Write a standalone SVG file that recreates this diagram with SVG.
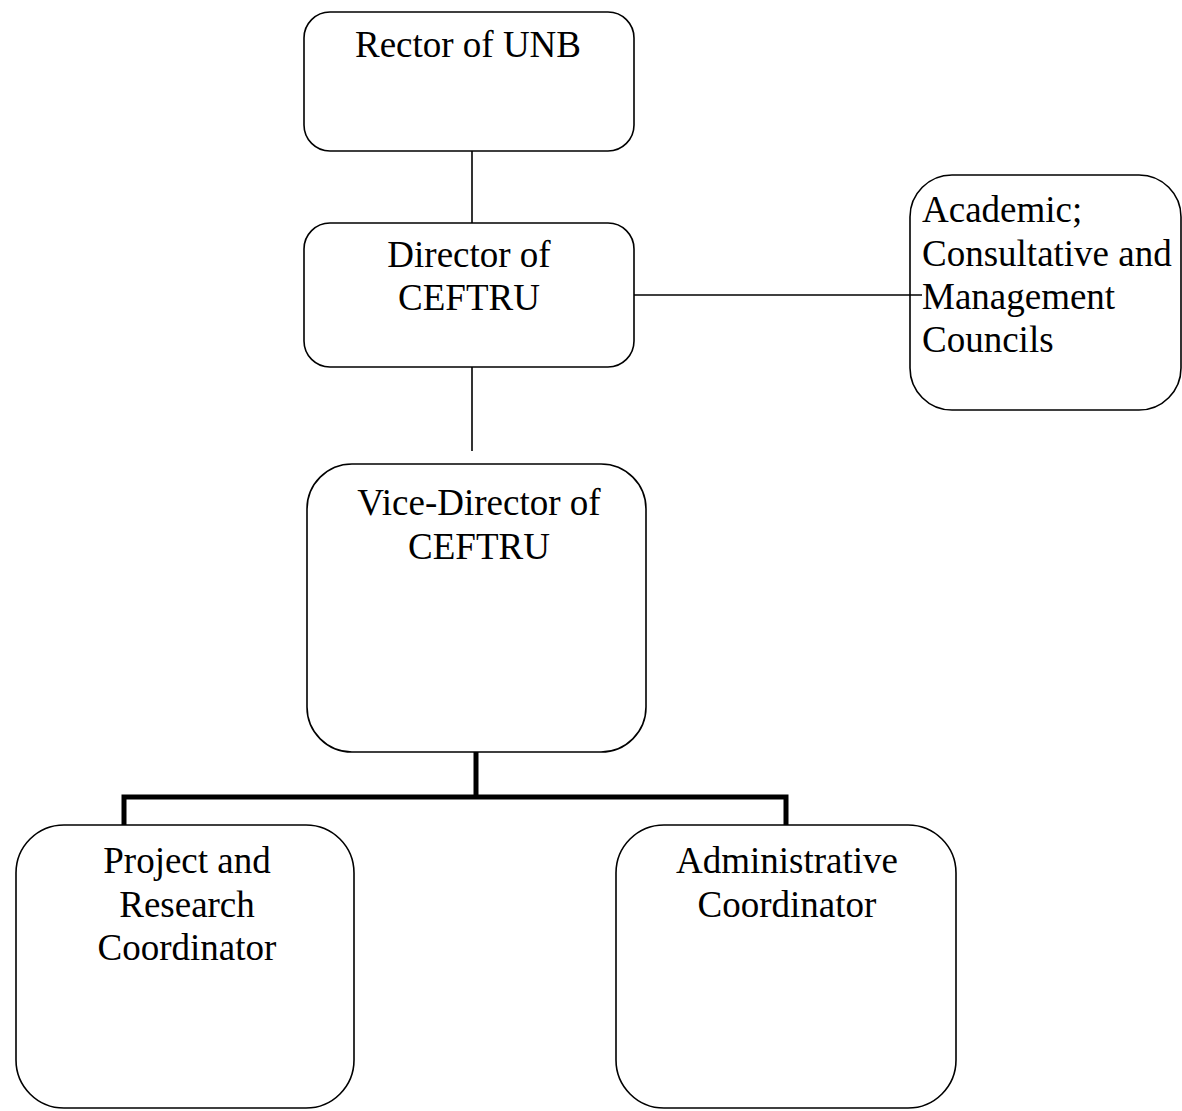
<svg xmlns="http://www.w3.org/2000/svg" width="1182" height="1111" viewBox="0 0 1182 1111">
<style>
.box{fill:#fff;stroke:#000;stroke-width:1.6}
.t{font-family:"Liberation Serif","Times New Roman",serif;font-size:37px;fill:#000}
.c{text-anchor:middle}
.thin{stroke:#000;stroke-width:1.6;fill:none}
.thick{stroke:#000;stroke-width:5;fill:none}
</style>
<rect width="1182" height="1111" fill="#fff"/>
<g id="rector">
<rect class="box" x="304" y="12" width="330" height="139" rx="26"/>
<text class="t c" x="468" y="57">Rector of UNB</text>
</g>
<g id="director">
<rect class="box" x="304" y="223" width="330" height="144" rx="26"/>
<text class="t c" x="469" y="267">Director of</text>
<text class="t c" x="469" y="310">CEFTRU</text>
</g>
<g id="councils">
<rect class="box" x="910" y="175" width="271" height="235" rx="42"/>
<text class="t" x="922" y="222">Academic;</text>
<text class="t" x="922" y="266">Consultative and</text>
<text class="t" x="922" y="309">Management</text>
<text class="t" x="922" y="352">Councils</text>
</g>
<g id="vice-director">
<rect class="box" x="307" y="464" width="339" height="288" rx="45"/>
<text class="t c" x="479" y="515">Vice-Director of</text>
<text class="t c" x="479" y="559">CEFTRU</text>
</g>
<g id="project-coordinator">
<rect class="box" x="16" y="825" width="338" height="283" rx="48"/>
<text class="t c" x="187" y="873">Project and</text>
<text class="t c" x="187" y="917">Research</text>
<text class="t c" x="187" y="960">Coordinator</text>
</g>
<g id="admin-coordinator">
<rect class="box" x="616" y="825" width="340" height="283" rx="48"/>
<text class="t c" x="787" y="873">Administrative</text>
<text class="t c" x="787" y="917">Coordinator</text>
</g>
<g id="connectors">
<line class="thin" x1="472" y1="151" x2="472" y2="223"/>
<line class="thin" x1="472" y1="367" x2="472" y2="451"/>
<line class="thin" x1="634" y1="295" x2="922" y2="295"/>
<polyline class="thick" points="476,752 476,797"/>
<polyline class="thick" points="124,825 124,797 786,797 786,825"/>
</g>
</svg>
